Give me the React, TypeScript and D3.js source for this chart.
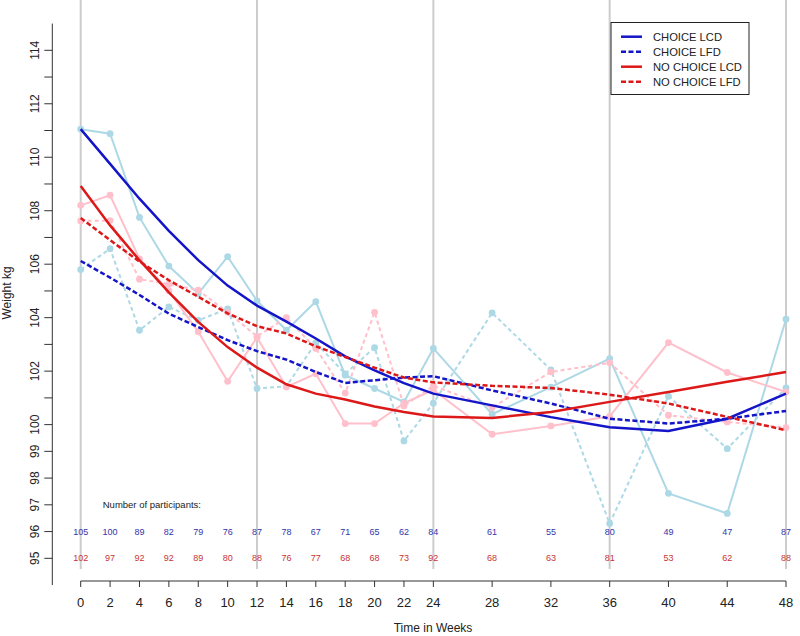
import React from "react";
import * as d3 from "d3";

const weeks = [0, 2, 4, 6, 8, 10, 12, 14, 16, 18, 20, 22, 24, 28, 32, 36, 40, 44, 48];

const choiceLcdObs = [111.05, 110.88, 107.75, 105.93, 104.9, 106.28, 104.63, 103.53, 104.6, 101.85, 101.35, 100.85, 102.85, 100.39, 101.4, 102.47, 97.43, 96.68, 103.94];
const choiceLfdObs = [105.8, 106.58, 103.53, 104.4, 103.9, 104.33, 101.35, 101.43, 103.06, 101.9, 102.88, 99.39, 100.8, 104.18, 102.05, 96.3, 101.06, 99.1, 101.37];
const noChoiceLcdObs = [108.2, 108.58, 106.2, 105.0, 103.47, 101.62, 103.26, 101.41, 101.9, 100.04, 100.04, 100.8, 101.3, 99.64, 99.95, 100.31, 103.07, 101.95, 101.22];
const noChoiceLfdObs = [107.62, 107.63, 105.44, 105.25, 105.03, 104.2, 103.3, 104.0, 102.85, 101.18, 104.2, 100.7, 101.45, 100.64, 101.97, 102.31, 100.35, 100.1, 99.89];

const choiceLcdFit = [111.05, 109.75, 108.45, 107.25, 106.15, 105.2, 104.45, 103.85, 103.22, 102.55, 102.03, 101.55, 101.16, 100.72, 100.28, 99.9, 99.76, 100.22, 101.16];
const choiceLfdFit = [106.12, 105.5, 104.85, 104.15, 103.65, 103.16, 102.75, 102.43, 101.97, 101.56, 101.66, 101.76, 101.81, 101.28, 100.79, 100.22, 100.04, 100.22, 100.51];
const noChoiceLcdFit = [108.92, 107.45, 106.15, 104.95, 103.84, 102.9, 102.13, 101.51, 101.16, 100.94, 100.68, 100.47, 100.3, 100.25, 100.47, 100.85, 101.22, 101.6, 101.97];
const noChoiceLfdFit = [107.73, 106.9, 106.1, 105.4, 104.78, 104.16, 103.68, 103.41, 102.93, 102.53, 102.13, 101.76, 101.58, 101.45, 101.37, 101.12, 100.79, 100.29, 99.79];

const choiceN = [105, 100, 89, 82, 79, 76, 87, 78, 67, 71, 65, 62, 84, 61, 55, 80, 49, 47, 87];
const noChoiceN = [102, 97, 92, 92, 89, 80, 88, 76, 77, 68, 68, 73, 92, 68, 63, 81, 53, 62, 88];

const yTicks = d3.range(95, 115);
const yLabels = [95, 96, 97, 98, 99, 100, 102, 104, 106, 108, 110, 112, 114];
const gridWeeks = [0, 12, 24, 36, 48];

const legendItems = [
  { label: "CHOICE LCD", color: "#1414C8", dash: "" },
  { label: "CHOICE LFD", color: "#1414C8", dash: "5,2.5" },
  { label: "NO CHOICE LCD", color: "#DD1818", dash: "" },
  { label: "NO CHOICE LFD", color: "#DD1818", dash: "5,2.5" },
];

const LIGHTBLUE = "#ADD8E6";
const PINK = "#FFC0CB";
const BLUE = "#1414C8";
const RED = "#DD1818";

export default function App() {
  const W = 800, H = 636;
  const x = d3.scaleLinear().domain([0, 48]).range([80.7, 786]);
  const y = d3.scaleLinear().domain([95, 114]).range([558.3, 50.3]);
  const line = (vals: number[]) =>
    d3.line<number>().x((_, i) => x(weeks[i])).y((d) => y(d))(vals) || "";

  const font = "'Liberation Sans', Arial, sans-serif";
  const axisY = 581;
  const axisX = 52.3;

  const obsSeries = [
    { vals: choiceLcdObs, color: LIGHTBLUE, dash: "" },
    { vals: choiceLfdObs, color: LIGHTBLUE, dash: "4,3" },
    { vals: noChoiceLcdObs, color: PINK, dash: "" },
    { vals: noChoiceLfdObs, color: PINK, dash: "4,3" },
  ];
  const fitSeries = [
    { vals: choiceLcdFit, color: BLUE, dash: "" },
    { vals: choiceLfdFit, color: BLUE, dash: "5,2.5" },
    { vals: noChoiceLcdFit, color: RED, dash: "" },
    { vals: noChoiceLfdFit, color: RED, dash: "5,2.5" },
  ];

  return (
    <svg width={W} height={H} style={{ position: "absolute", left: 0, top: 0, background: "#fff" }} fontFamily={font}>
      <rect x={0} y={0} width={W} height={H} fill="#fff" />
      {gridWeeks.map((w) => (
        <line key={w} x1={x(w)} x2={x(w)} y1={y(94.6)} y2={y(115.9)} stroke="#CCCCCC" strokeWidth={2} />
      ))}
      {obsSeries.map((s, k) => (
        <g key={"o" + k}>
          <path d={line(s.vals)} fill="none" stroke={s.color} strokeWidth={2} strokeDasharray={s.dash} />
          {s.vals.map((v, i) => (
            <circle key={i} cx={x(weeks[i])} cy={y(v)} r={3.4} fill={s.color} />
          ))}
        </g>
      ))}
      {fitSeries.map((s, k) => (
        <path key={"f" + k} d={line(s.vals)} fill="none" stroke={s.color} strokeWidth={2.5} strokeDasharray={s.dash} />
      ))}
      <text x={x(1.5)} y={y(97)} fontSize={9.5} fill="#222" dominantBaseline="central">Number of participants:</text>
      {choiceN.map((n, i) => (
        <text key={"c" + i} x={x(weeks[i])} y={y(96)} fontSize={9} fill="#3434A8" textAnchor="middle" dominantBaseline="central">{n}</text>
      ))}
      {noChoiceN.map((n, i) => (
        <text key={"n" + i} x={x(weeks[i])} y={y(95)} fontSize={9} fill="#C83434" textAnchor="middle" dominantBaseline="central">{n}</text>
      ))}
      <line x1={axisX} x2={axisX} y1={y(94)} y2={y(115)} stroke="#333" strokeWidth={1} />
      {yTicks.map((t) => (
        <line key={t} x1={axisX - 8} x2={axisX} y1={y(t)} y2={y(t)} stroke="#333" strokeWidth={1} />
      ))}
      {yLabels.map((t) => (
        <text key={t} transform={`translate(35,${y(t)}) rotate(-90)`} fontSize={12} fill="#222" textAnchor="middle" dominantBaseline="central">{t}</text>
      ))}
      <text transform={`translate(7,293) rotate(-90)`} fontSize={12} fill="#222" textAnchor="middle" dominantBaseline="central">Weight kg</text>
      <line x1={x(0)} x2={x(48)} y1={axisY} y2={axisY} stroke="#333" strokeWidth={1} />
      {weeks.map((w) => (
        <g key={w}>
          <line x1={x(w)} x2={x(w)} y1={axisY} y2={axisY + 6} stroke="#333" strokeWidth={1} />
          <text x={x(w)} y={602} fontSize={13} fill="#222" textAnchor="middle" dominantBaseline="central">{w}</text>
        </g>
      ))}
      <text x={433} y={628} fontSize={12} fill="#222" textAnchor="middle" dominantBaseline="central">Time in Weeks</text>
      <rect x={611} y={22.5} width={138} height={72} fill="#fff" stroke="#222" strokeWidth={1} />
      {legendItems.map((it, i) => (
        <g key={it.label}>
          <line x1={621} x2={642} y1={36.7 + i * 15} y2={36.7 + i * 15} stroke={it.color} strokeWidth={2.5} strokeDasharray={it.dash} />
          <text x={653} y={36.7 + i * 15} fontSize={11.2} fill="#222" dominantBaseline="central">{it.label}</text>
        </g>
      ))}
    </svg>
  );
}
